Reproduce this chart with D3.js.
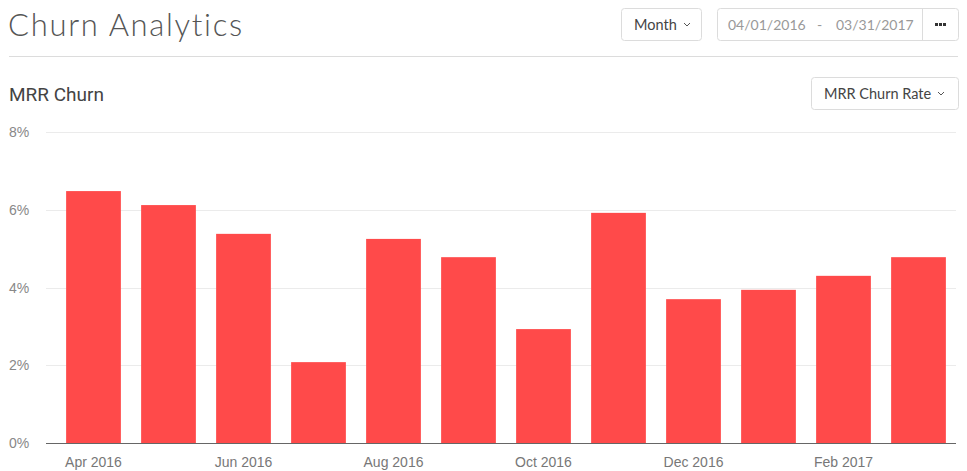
<!DOCTYPE html>
<html>
<head>
<meta charset="utf-8">
<script src="https://cdn.jsdelivr.net/npm/d3@7"></script>
<style>
  body { margin: 0; background: #fff; }
  svg { display: block; }
</style>
</head>
<body>
<div id="chart"></div>
<script>
const months = ["Apr 2016", "May 2016", "Jun 2016", "Jul 2016", "Aug 2016", "Sep 2016",
  "Oct 2016", "Nov 2016", "Dec 2016", "Jan 2017", "Feb 2017", "Mar 2017"];
const churnRate = [6.48, 6.12, 5.38, 2.08, 5.25, 4.78, 2.93, 5.92, 3.70, 3.94, 4.30, 4.78];
const yTicks = [0, 2, 4, 6, 8];
const xTickLabels = ["Apr 2016", "Jun 2016", "Aug 2016", "Oct 2016", "Dec 2016", "Feb 2017"];

const W = 967, H = 471;
const margin = { top: 132, right: 11, bottom: 28, left: 45 };
const width = W - margin.left - margin.right,
  height = H - margin.top - margin.bottom;

const svg = d3.select("#chart")
  .append("svg")
  .attr("width", W)
  .attr("height", H);

// header
svg.append("text")
  .attr("x", 8).attr("y", 36)
  .style("font-family", "Lato, sans-serif")
  .style("font-weight", 300)
  .style("font-size", "31px")
  .style("letter-spacing", "1.7px")
  .attr("fill", "#555")
  .text("Churn Analytics");

svg.append("line")
  .attr("x1", 9).attr("x2", 958)
  .attr("y1", 56.5).attr("y2", 56.5)
  .attr("stroke", "#dcdcdc");

// little buttons in the header
function button(x, y, w, h) {
  svg.append("rect")
    .attr("x", x + 0.5).attr("y", y + 0.5)
    .attr("width", w).attr("height", h)
    .attr("rx", 3)
    .attr("fill", "#fff")
    .attr("stroke", "#dcdcdc");
}
function caret(x, y) {
  svg.append("path")
    .attr("d", `M${x},${y} l3,3 l3,-3`)
    .attr("fill", "none")
    .attr("stroke", "#555")
    .attr("stroke-width", 1);
}
const btnFont = "Lato, sans-serif";

button(621, 8, 80, 32);
svg.append("text")
  .attr("x", 634).attr("y", 30)
  .style("font-family", btnFont).style("font-size", "14.5px")
  .attr("fill", "#444")
  .text("Month");
caret(684, 23);

button(717, 8, 241, 32);
svg.append("line")
  .attr("x1", 922.5).attr("x2", 922.5)
  .attr("y1", 8).attr("y2", 41)
  .attr("stroke", "#dcdcdc");
svg.append("text")
  .attr("x", 728).attr("y", 30)
  .style("font-family", btnFont).style("font-size", "14px")
  .attr("fill", "#999")
  .text("04/01/2016");
svg.append("text")
  .attr("x", 817).attr("y", 30)
  .style("font-family", btnFont).style("font-size", "14px")
  .attr("fill", "#999")
  .text("-");
svg.append("text")
  .attr("x", 836).attr("y", 30)
  .style("font-family", btnFont).style("font-size", "14px")
  .attr("fill", "#999")
  .text("03/31/2017");
[935, 939, 943].forEach(cx => {
  svg.append("rect").attr("x", cx).attr("y", 23).attr("width", 3).attr("height", 3).attr("fill", "#333");
});

svg.append("text")
  .attr("x", 9).attr("y", 101)
  .style("font-family", "Roboto, sans-serif")
  .style("font-size", "19px")
  .attr("fill", "#444")
  .text("MRR Churn");

button(811, 77, 147, 32);
svg.append("text")
  .attr("x", 824).attr("y", 99)
  .style("font-family", btnFont).style("font-size", "14.5px")
  .attr("fill", "#444")
  .text("MRR Churn Rate");
caret(938, 92);

// chart
const g = svg.append("g")
  .attr("transform", `translate(${margin.left},${margin.top})`);

const x = d3.scaleBand()
  .domain(months)
  .range([11, width])
  .paddingInner(0.27)
  .paddingOuter(0.135);

const y = d3.scaleLinear()
  .domain([0, 8])
  .range([height, 0]);

// grid
g.append("g")
  .selectAll("line")
  .data(yTicks.slice(1))
  .join("line")
  .attr("x1", 1).attr("x2", width)
  .attr("y1", d => Math.round(y(d)) + 0.5)
  .attr("y2", d => Math.round(y(d)) + 0.5)
  .attr("stroke", "#ebebeb");

// y labels
g.append("g")
  .selectAll("text")
  .data(yTicks)
  .join("text")
  .attr("x", -36)
  .attr("y", d => y(d) + 5)
  .style("font-family", "'Liberation Sans', Arial, sans-serif")
  .style("font-size", "14px")
  .attr("fill", "#888")
  .text(d => d + "%");

// bars
g.append("g")
  .selectAll("rect")
  .data(churnRate)
  .join("rect")
  .attr("x", (d, i) => x(months[i]))
  .attr("y", d => y(d))
  .attr("width", x.bandwidth())
  .attr("height", d => height - y(d))
  .attr("fill", "#ff4a4a");

// x axis
g.append("line")
  .attr("x1", 1).attr("x2", width)
  .attr("y1", height + 0.5).attr("y2", height + 0.5)
  .attr("stroke", "#666");

g.append("g")
  .selectAll("text")
  .data(xTickLabels)
  .join("text")
  .attr("x", d => x(d) + x.bandwidth() / 2)
  .attr("y", height + 24)
  .attr("text-anchor", "middle")
  .style("font-family", "'Liberation Sans', Arial, sans-serif")
  .style("font-size", "14px")
  .attr("fill", "#777")
  .text(d => d);
</script>
</body>
</html>
